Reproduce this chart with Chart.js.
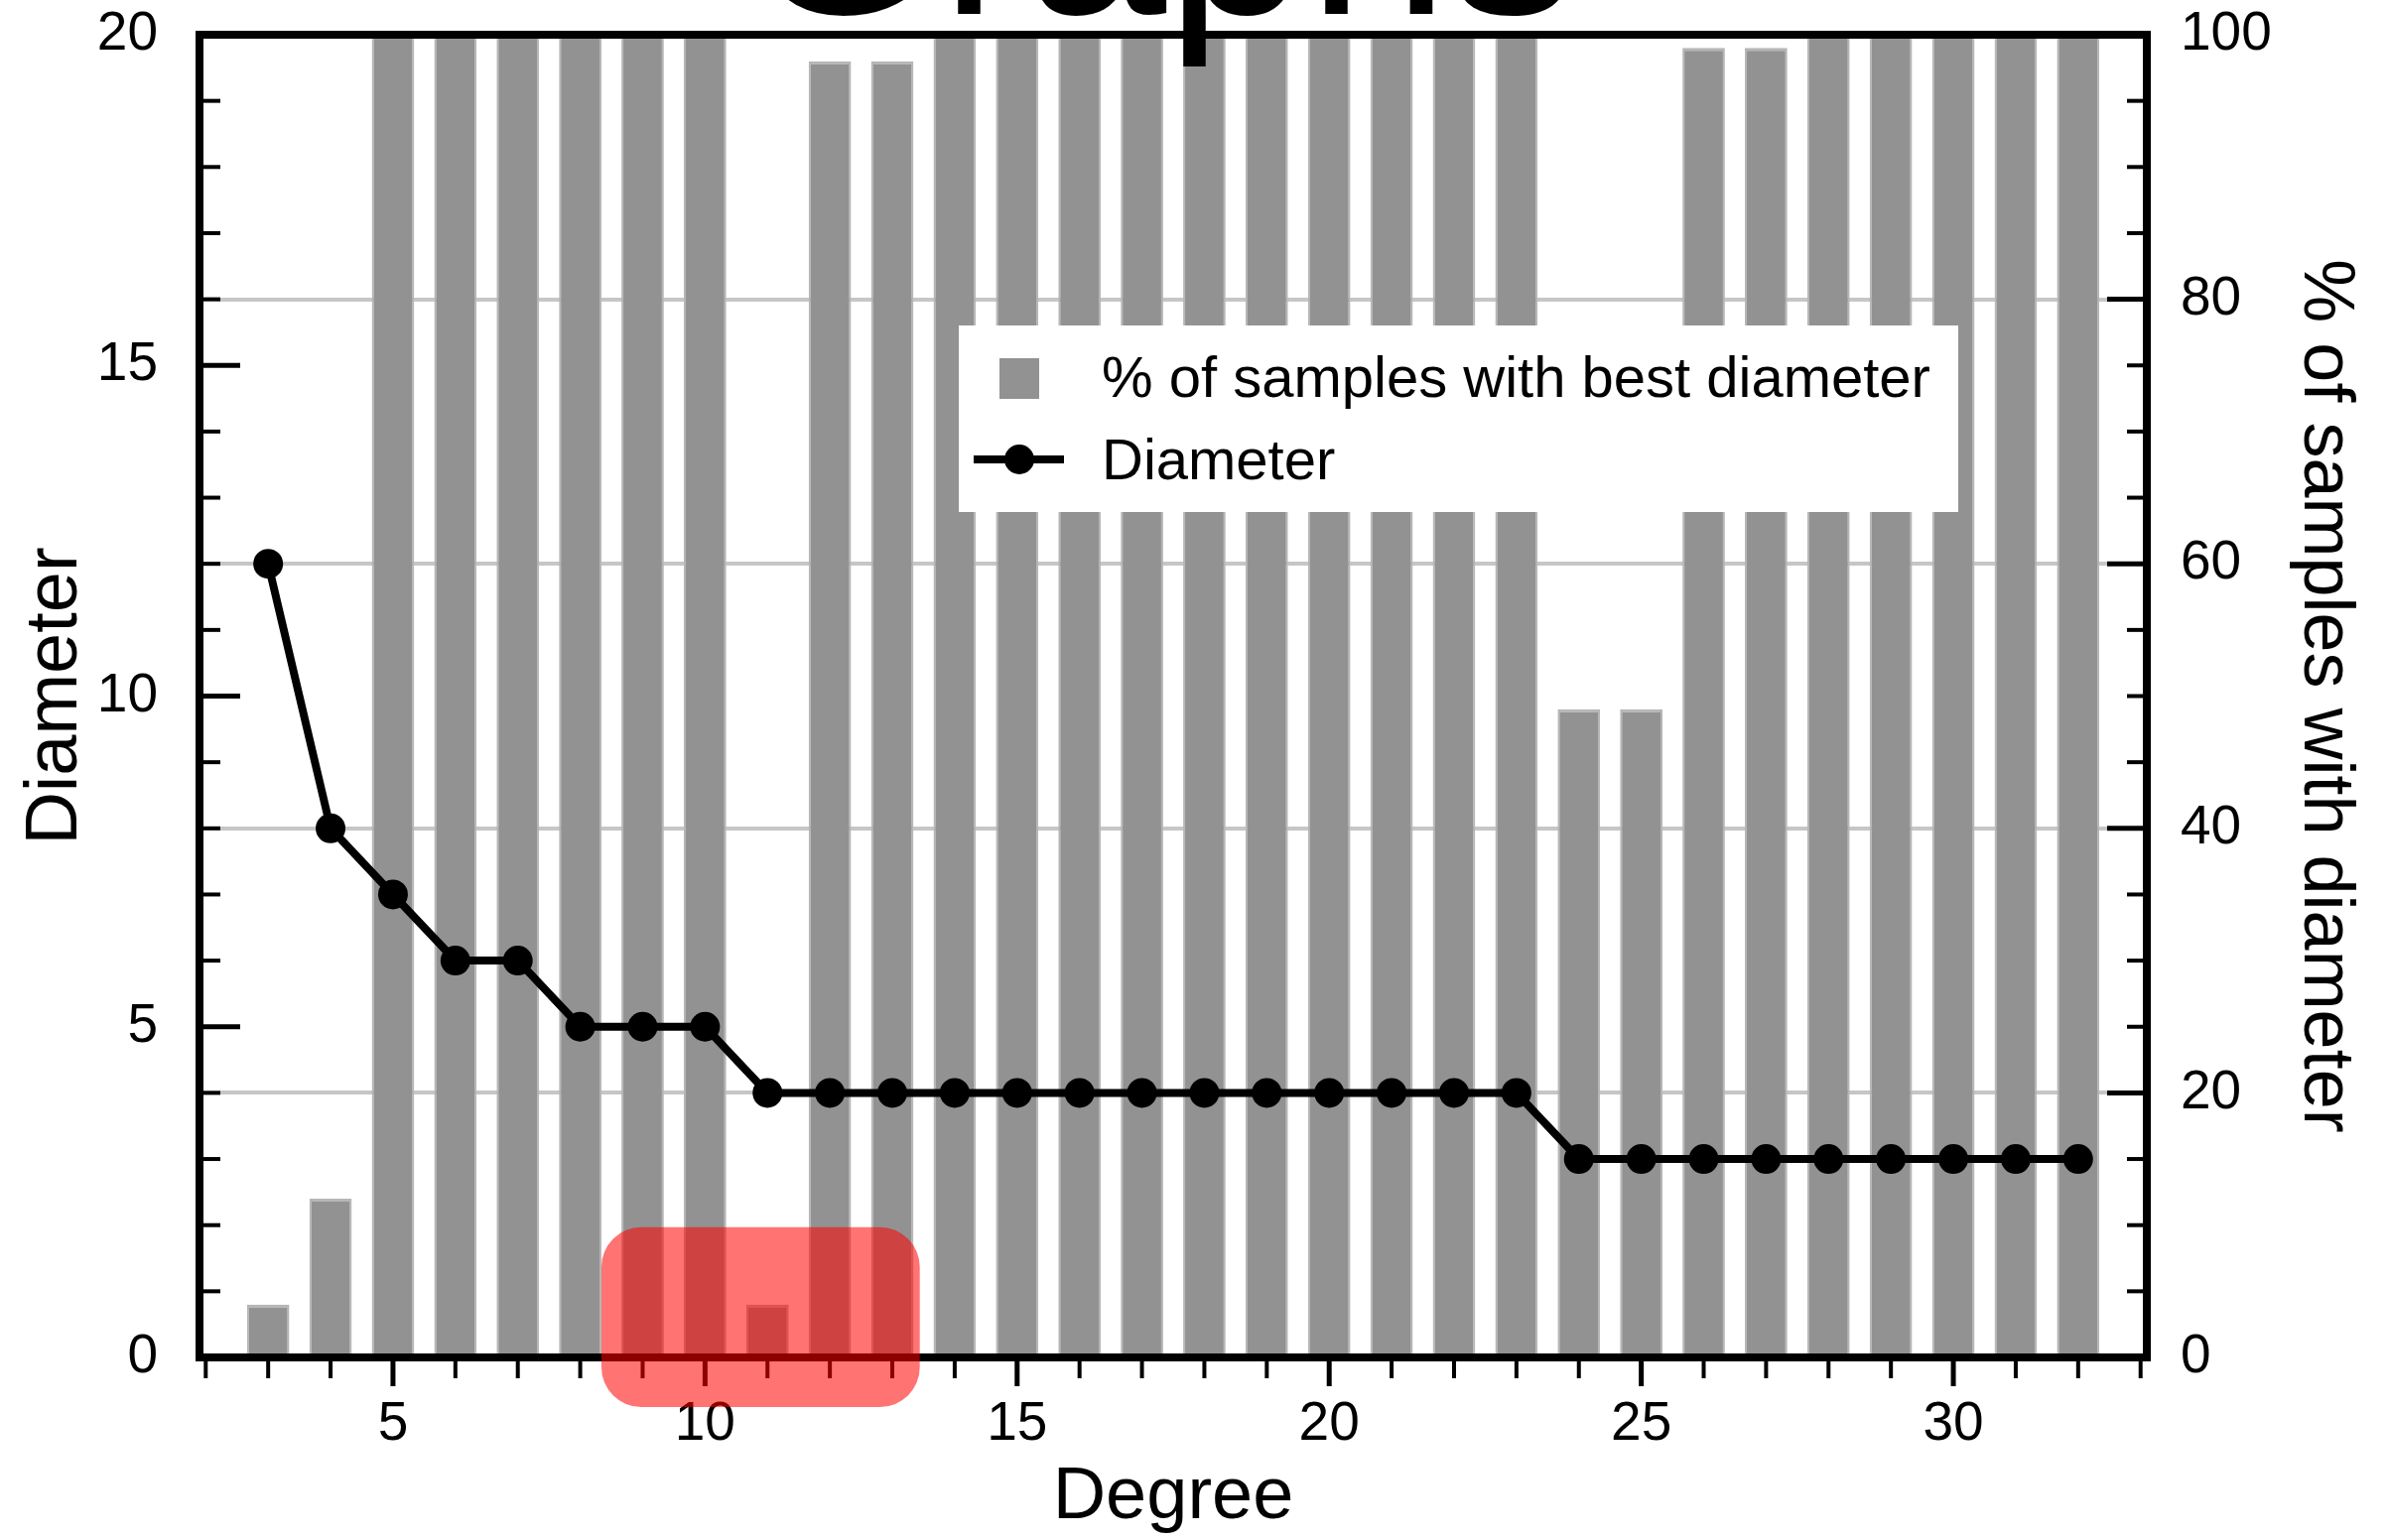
<!DOCTYPE html>
<html>
<head>
<meta charset="utf-8">
<script src="https://cdn.jsdelivr.net/npm/chart.js@4.4.1/dist/chart.umd.min.js"></script>
<style>
html,body{margin:0;padding:0;background:#fff;overflow:hidden}
#wrap{position:relative;width:2407px;height:1552px;overflow:hidden}
#c{position:absolute;left:0;top:0}
#title{position:absolute;left:0;width:2336px;top:-203px;text-align:center;font:256px/1 "Liberation Sans",Arial,sans-serif;color:#000;white-space:nowrap}
#legend{position:absolute;left:966px;top:328px;width:1007px;height:188px;background:#fff;font:58px/1 "Liberation Sans",Arial,sans-serif;color:#000}
#legend .sw{position:absolute;left:41px;top:33px;width:40px;height:41px;background:#929292}
#legend .ln{position:absolute;left:15px;top:131px;width:91px;height:8px;background:#000}
#legend .dot{position:absolute;left:46px;top:120px;width:30px;height:30px;border-radius:50%;background:#000}
#legend .t{position:absolute;left:144px;white-space:nowrap}
</style>
</head>
<body>
<div id="wrap">
  <canvas id="c" width="2407" height="1552"></canvas>
  <div id="title">Graphs</div>
  <div id="legend">
    <div class="sw"></div>
    <div class="t" style="top:23px">% of samples with best diameter</div>
    <div class="ln"></div>
    <div class="dot"></div>
    <div class="t" style="top:106px">Diameter</div>
  </div>
</div>
<script>
const degrees  = [3,4,5,6,7,8,9,10,11,12,13,14,15,16,17,18,19,20,21,22,23,24,25,26,27,28,29,30,31,32];
const diameter = [12,8,7,6,6,5,5,5,4,4,4,4,4,4,4,4,4,4,4,4,4,3,3,3,3,3,3,3,3,3];
const pctBest  = [4,12,100,100,100,100,100,100,4,98,98,100,100,100,100,100,100,100,100,100,100,49,49,99,99,100,100,100,100,100];
const xRange = [1.9, 33.1];
const diamRange = [0, 20];
const pctRange = [0, 100];
// highlighted box, in data units (degree, diameter)
const highlight = {x0: 8.34, x1: 13.44, y0: -0.75, y1: 1.97};

const FONT = '"Liberation Sans", Arial, sans-serif';

function line(ctx, x0, y0, x1, y1){
  ctx.beginPath(); ctx.moveTo(x0, y0); ctx.lineTo(x1, y1); ctx.stroke();
}

// keep tick label overhang from pushing the plot area around
function fixSize(prop, val){
  return s => { s[prop] = val; s.paddingTop = 0; s.paddingBottom = 0; s.paddingLeft = 0; s.paddingRight = 0; };
}

const frameTicks = {
  id: 'frameTicks',
  afterDraw(chart){
    const {ctx, chartArea: a} = chart;
    const {x, y, y2} = chart.scales;
    ctx.save();
    ctx.strokeStyle = '#000';
    // x ticks, pointing out
    for(let v = Math.ceil(x.min); v <= x.max; v++){
      const px = x.getPixelForValue(v);
      const major = v % 5 === 0;
      ctx.lineWidth = major ? 5 : 4;
      line(ctx, px, a.bottom, px, a.bottom + (major ? 29 : 21));
    }
    // left ticks, pointing in
    for(let v = diamRange[0]; v <= diamRange[1]; v++){
      const py = y.getPixelForValue(v);
      const major = v % 5 === 0;
      ctx.lineWidth = major ? 5 : 4;
      line(ctx, a.left, py, a.left + (major ? 41 : 21), py);
    }
    // right ticks, pointing in
    for(let v = pctRange[0]; v <= pctRange[1]; v += 5){
      const py = y2.getPixelForValue(v);
      const major = v % 20 === 0;
      ctx.lineWidth = major ? 5 : 4;
      line(ctx, a.right, py, a.right - (major ? 40 : 20), py);
    }
    ctx.lineWidth = 8;
    ctx.strokeRect(a.left, a.top, a.right - a.left, a.bottom - a.top);

    // red highlight box
    const l = x.getPixelForValue(highlight.x0), r = x.getPixelForValue(highlight.x1);
    const t = y.getPixelForValue(highlight.y1), b = y.getPixelForValue(highlight.y0);
    const rad = 40;
    ctx.beginPath();
    ctx.moveTo(l + rad, t);
    ctx.arcTo(r, t, r, b, rad);
    ctx.arcTo(r, b, l, b, rad);
    ctx.arcTo(l, b, l, t, rad);
    ctx.arcTo(l, t, r, t, rad);
    ctx.closePath();
    ctx.fillStyle = 'rgba(255,0,0,0.55)';
    ctx.fill();
    ctx.restore();
  }
};

new Chart(document.getElementById('c'), {
  type: 'bar',
  data: {
    datasets: [
      {
        type: 'line',
        label: 'Diameter',
        data: degrees.map((d, i) => ({x: d, y: diameter[i]})),
        yAxisID: 'y',
        borderColor: '#000',
        borderWidth: 8,
        pointRadius: 15,
        pointBackgroundColor: '#000',
        pointBorderWidth: 0,
        tension: 0,
        order: 0
      },
      {
        type: 'bar',
        label: '% of samples with best diameter',
        data: degrees.map((d, i) => ({x: d, y: pctBest[i]})),
        yAxisID: 'y2',
        backgroundColor: '#929292',
        borderColor: '#b6b6b6',
        borderWidth: {left: 2, right: 2, top: 3, bottom: 0},
        borderSkipped: false,
        barPercentage: 0.68,
        categoryPercentage: 1,
        order: 1
      }
    ]
  },
  options: {
    responsive: false,
    animation: false,
    devicePixelRatio: 1,
    layout: {padding: {top: 35, left: 0, right: 0, bottom: 0}},
    plugins: {legend: {display: false}, tooltip: {enabled: false}},
    scales: {
      x: {
        type: 'linear',
        position: 'bottom',
        offset: false,
        min: xRange[0], max: xRange[1],
        grid: {display: false, offset: false},
        border: {display: false},
        ticks: {stepSize: 5, includeBounds: false, autoSkip: false, maxRotation: 0,
                padding: 27, color: '#000', font: {family: FONT, size: 55}},
        title: {display: true, text: 'Degree', color: '#000',
                font: {family: FONT, size: 74, lineHeight: 1}, padding: {top: 0, bottom: 5}},
        afterFit: fixSize('height', 184)
      },
      y: {
        type: 'linear',
        position: 'left',
        min: diamRange[0], max: diamRange[1],
        grid: {display: false},
        border: {display: false},
        ticks: {stepSize: 5, padding: 34, color: '#000', font: {family: FONT, size: 55}},
        title: {display: true, text: 'Diameter', color: '#000',
                font: {family: FONT, size: 74, lineHeight: 1}, padding: {top: 20, bottom: 0}},
        afterFit: fixSize('width', 201)
      },
      y2: {
        type: 'linear',
        position: 'right',
        min: pctRange[0], max: pctRange[1],
        grid: {display: true, drawTicks: false, color: '#c6c6c6', lineWidth: 4},
        border: {display: false},
        ticks: {stepSize: 20, padding: 34, color: '#000', font: {family: FONT, size: 55}},
        title: {display: true, text: '% of samples with diameter', color: '#000',
                font: {family: FONT, size: 72, lineHeight: 1}, padding: {top: 29, bottom: 0}},
        afterFit: fixSize('width', 244)
      }
    }
  },
  plugins: [frameTicks]
});
</script>
</body>
</html>
